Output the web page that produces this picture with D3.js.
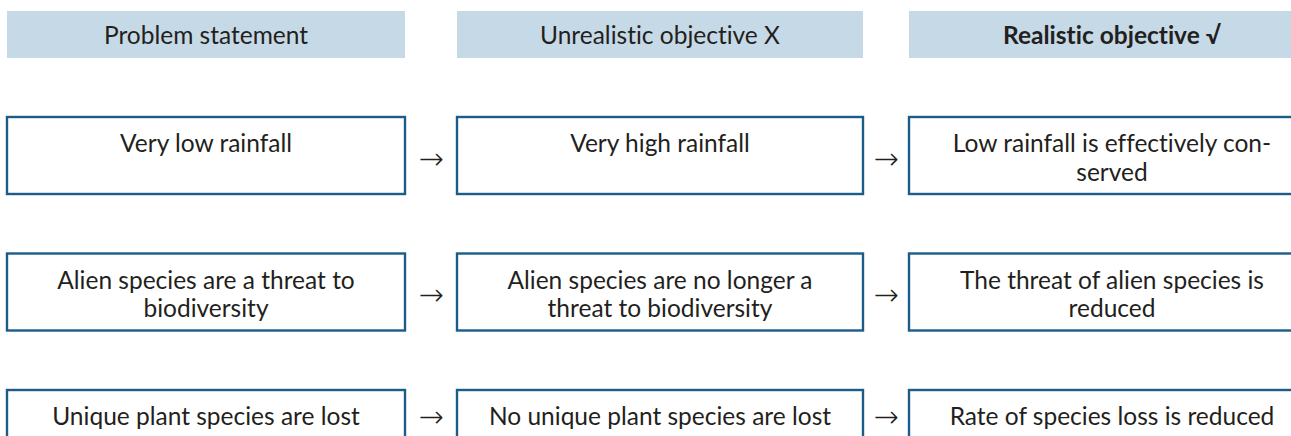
<!DOCTYPE html>
<html>
<head>
<meta charset="utf-8">
<script src="https://cdn.jsdelivr.net/npm/d3@7"></script>
<style>
  html, body { margin: 0; padding: 0; background: #fff; }
  svg { display: block; }
  text { font-variant-ligatures: none; font-feature-settings: "liga" 0, "clig" 0; }
</style>
</head>
<body>
<svg id="chart" width="1291" height="436"></svg>
<script>
// ---- data ----
const columns = ["Problem statement", "Unrealistic objective X", "Realistic objective \u221A"];
const problems = [
  "Very low rainfall",
  "Alien species are a threat to\nbiodiversity",
  "Unique plant species are lost"
];
const unrealistic = [
  "Very high rainfall",
  "Alien species are no longer a\nthreat to biodiversity",
  "No unique plant species are lost"
];
const realistic = [
  "Low rainfall is effectively con-\nserved",
  "The threat of alien species is\nreduced",
  "Rate of species loss is reduced"
];
const arrowGlyph = "\u2192";

// ---- layout ----
const svg = d3.select("#chart");
const font = "Lato, 'Gill Sans', 'Open Sans', sans-serif";
const textColor = "#231f20";
const headFill = "#c6d9e7";
const borderColor = "#1b5d88";

const colX = d3.scaleOrdinal().domain([0, 1, 2]).range([7, 457, 909]);
const colW = d3.scaleOrdinal().domain([0, 1, 2]).range([398, 406, 406]);
const rowY = d3.scaleLinear().domain([0, 1]).range([117, 253.5]);
const fontSize = 24.5;
const lineH = 28.5;
const boxHeight = n => 20 + 28.5 * n;
const arrowSize = 30;

// headers
const head = svg.append("g").selectAll("g").data(columns).join("g");
head.append("rect")
  .attr("x", (d, i) => colX(i))
  .attr("y", 11)
  .attr("width", (d, i) => colW(i))
  .attr("height", 47)
  .attr("fill", headFill);
head.append("text")
  .attr("x", (d, i) => colX(i) + colW(i) / 2)
  .attr("y", 44)
  .attr("text-anchor", "middle")
  .attr("font-family", font)
  .attr("font-size", fontSize)
  .attr("font-weight", (d, i) => i === 2 ? 700 : 400)
  .attr("fill", textColor)
  .text(d => d);

// rows
const table = problems.map((p, r) => [p, unrealistic[r], realistic[r]]);
const rows = svg.append("g").selectAll("g").data(table).join("g");
rows.each(function(row, r) {
  const g = d3.select(this);
  const nLines = d3.max(row, s => s.split("\n").length);
  const h = boxHeight(nLines);
  row.forEach((txt, c) => {
    g.append("rect")
      .attr("x", colX(c))
      .attr("y", rowY(r))
      .attr("width", colW(c))
      .attr("height", h)
      .attr("fill", "#fff")
      .attr("stroke", borderColor)
      .attr("stroke-width", 2.4);
    const t = g.append("text")
      .attr("text-anchor", "middle")
      .attr("font-family", font)
      .attr("font-size", fontSize)
      .attr("fill", textColor);
    txt.split("\n").forEach((line, li) => {
      t.append("tspan")
        .attr("x", colX(c) + colW(c) / 2)
        .attr("y", rowY(r) + 35 + li * lineH)
        .text(line);
    });
    if (c < 2) {
      const gapMid = (colX(c) + colW(c) + colX(c + 1)) / 2;
      g.append("text")
        .attr("x", gapMid)
        .attr("y", rowY(r) + h / 2 + 3 + 0.34 * arrowSize)
        .attr("text-anchor", "middle")
        .attr("font-family", "'DejaVu Sans', sans-serif")
        .attr("font-weight", 200)
        .attr("font-size", arrowSize)
        .attr("fill", textColor)
        .text(arrowGlyph);
    }
  });
});
</script>
</body>
</html>
